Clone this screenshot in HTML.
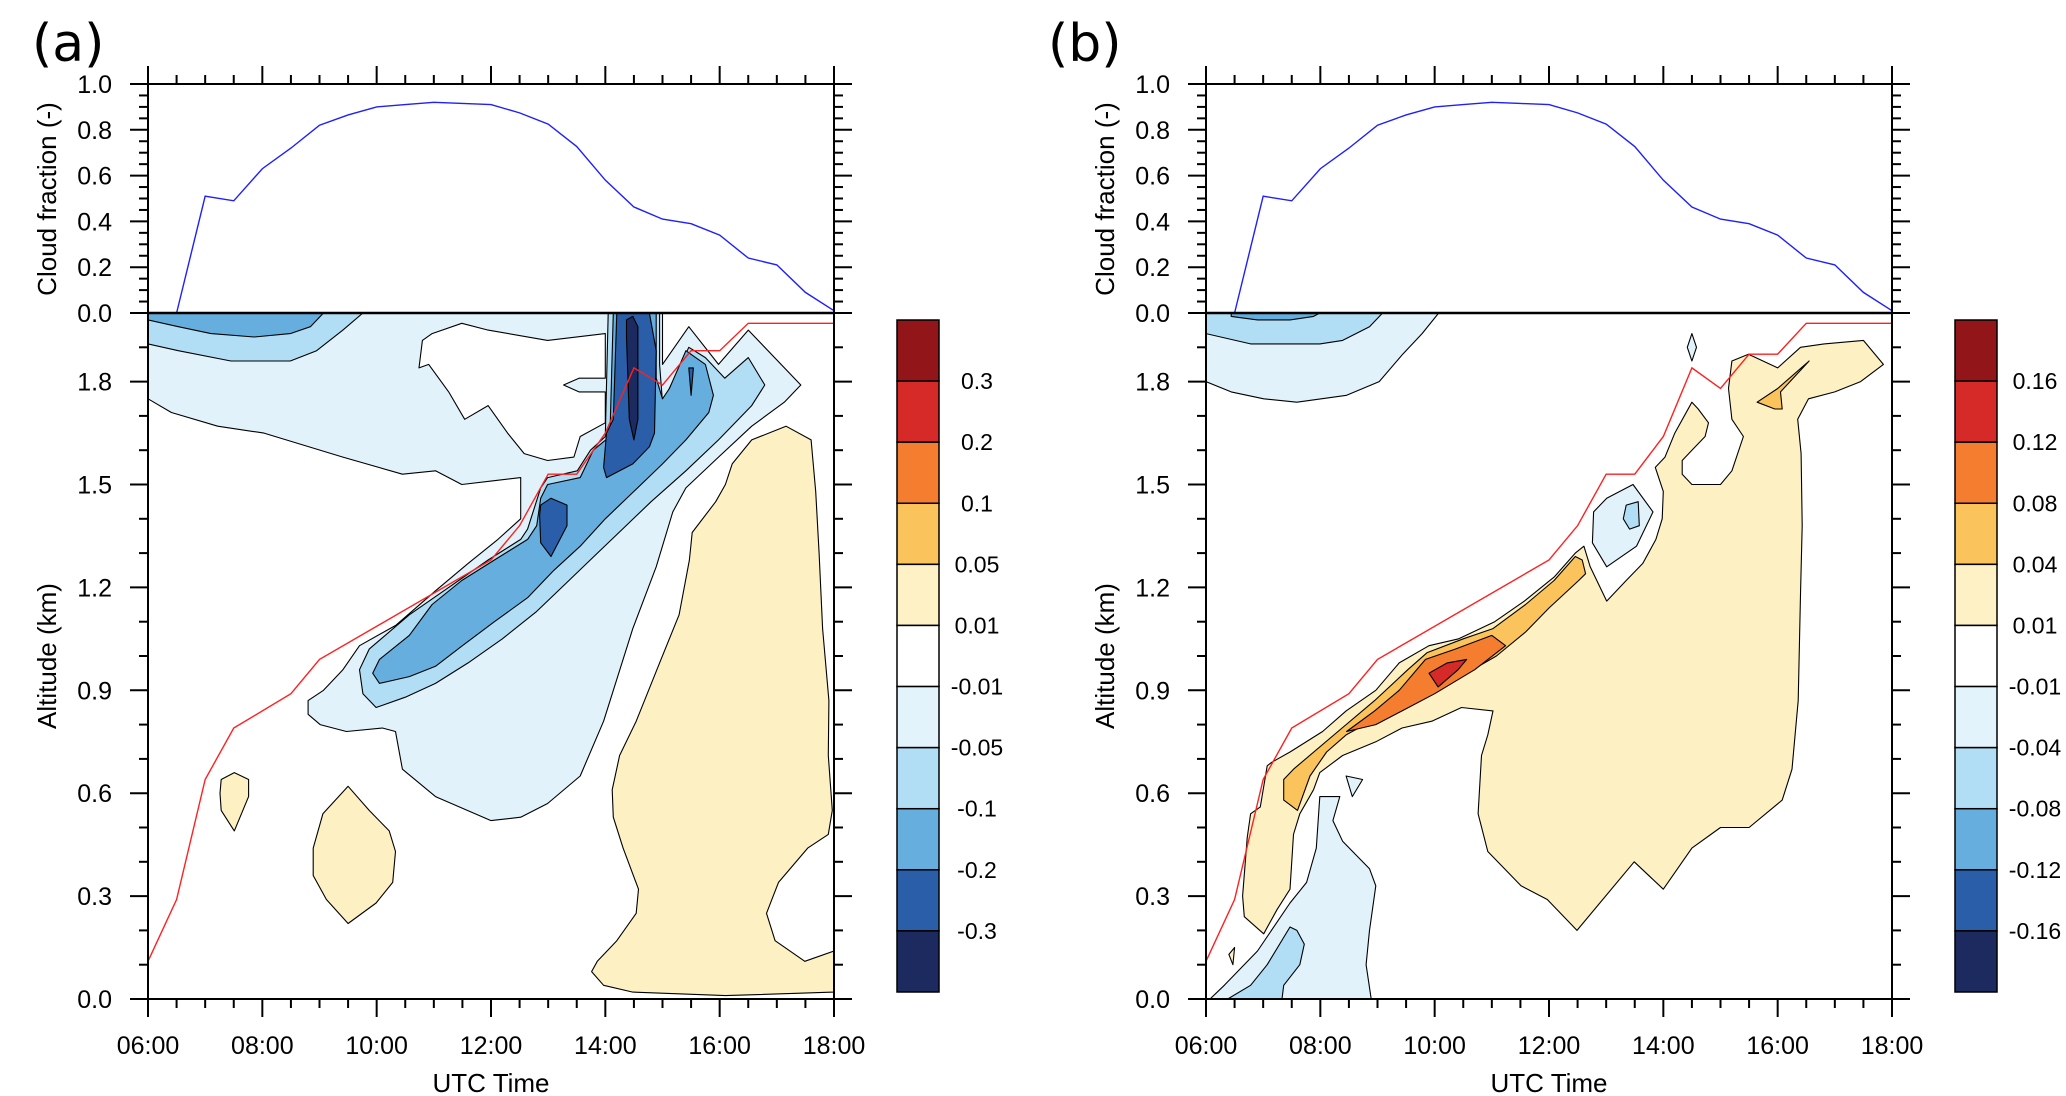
<!DOCTYPE html>
<html><head><meta charset="utf-8">
<style>
html,body{margin:0;padding:0;background:#fff;}
svg{display:block;font-family:"Liberation Sans",Arial,sans-serif;}
</style></head>
<body>
<svg id="fig" width="2066" height="1096" viewBox="0 0 2066 1096" xmlns="http://www.w3.org/2000/svg"></svg>
<script>
// ---------- data ----------
const cloudTimes = [6.5,7,7.5,8,8.5,9,9.5,10,10.5,11,11.5,12,12.5,13,13.5,14,14.5,15,15.5,16,16.5,17,17.5,18];
const cloudFraction = [0,0.51,0.49,0.63,0.72,0.82,0.865,0.90,0.91,0.92,0.915,0.91,0.874,0.825,0.727,0.58,0.463,0.41,0.39,0.34,0.24,0.21,0.09,0.01];
const topTimes = [6,6.5,7,7.5,8.5,9,12,12.5,13,13.5,14,14.5,15,15.5,16,16.5,18];
const topAltA = [0.11,0.29,0.64,0.79,0.89,0.99,1.28,1.38,1.53,1.53,1.65,1.84,1.79,1.89,1.89,1.97,1.97];
const topAltB = [0.11,0.29,0.64,0.79,0.89,0.99,1.28,1.38,1.53,1.53,1.64,1.84,1.78,1.88,1.88,1.97,1.97];
const xTickLabels = ["06:00","08:00","10:00","12:00","14:00","16:00","18:00"];
const cloudTickLabels = ["0.0","0.2","0.4","0.6","0.8","1.0"];
const altTickLabels = ["0.0","0.3","0.6","0.9","1.2","1.5","1.8"];
const levelsA = ["0.3","0.2","0.1","0.05","0.01","-0.01","-0.05","-0.1","-0.2","-0.3"];
const levelsB = ["0.16","0.12","0.08","0.04","0.01","-0.01","-0.04","-0.08","-0.12","-0.16"];
const cbColors = ["#921519","#d62a28","#f47d2f","#fbc35b","#fdf1c5","#ffffff","#e2f3fb","#b1def4","#66aede","#2a5ea9","#1c2a5f"];

// contour regions [hour, km]
const aLight = [[6,2.0],[15,2.0],[15,1.85],[15.46,1.96],[15.98,1.85],[16.5,1.95],[17.42,1.79],[17.13,1.74],[16.56,1.67],[15.98,1.58],[15.41,1.49],[15.18,1.42],[14.89,1.26],[14.48,1.08],[13.97,0.81],[13.56,0.65],[12.99,0.57],[12.52,0.53],[12.0,0.52],[11.03,0.59],[10.45,0.67],[10.33,0.78],[10.1,0.79],[9.47,0.78],[9.01,0.80],[8.8,0.83],[8.8,0.87],[9.07,0.90],[9.41,0.96],[9.7,1.03],[10.34,1.09],[11.03,1.19],[11.6,1.27],[12.12,1.34],[12.52,1.40],[12.52,1.52],[12.0,1.51],[11.49,1.50],[11.03,1.54],[10.45,1.53],[9.41,1.58],[8.03,1.65],[7.22,1.67],[6.41,1.71],[6,1.75]];
const aHole = [[10.8,1.92],[10.97,1.94],[11.49,1.97],[11.95,1.95],[12.99,1.92],[14.0,1.94],[14.0,1.81],[13.54,1.81],[13.27,1.79],[13.54,1.77],[14.0,1.77],[14.0,1.68],[13.56,1.64],[13.45,1.58],[12.99,1.57],[12.58,1.59],[12.29,1.65],[11.95,1.73],[11.54,1.69],[11.26,1.77],[10.91,1.85],[10.74,1.84]];
const aTopMidLight = [[6,2.0],[9.76,2.0],[9.41,1.95],[8.95,1.89],[8.49,1.86],[7.45,1.86],[6.53,1.89],[6,1.91]];
const aTopMid = [[6,2.0],[9.07,2.0],[8.84,1.96],[8.49,1.94],[7.86,1.93],[7.1,1.94],[6.53,1.96],[6,1.98]];
const aDiagMidLight = [[14.05,2.0],[14.95,2.0],[14.95,1.85],[15.0,1.74],[15.18,1.80],[15.46,1.90],[15.75,1.87],[16.09,1.81],[16.5,1.87],[16.79,1.79],[16.56,1.73],[15.98,1.63],[15.41,1.54],[14.8,1.45],[14.3,1.37],[13.8,1.29],[13.3,1.21],[12.8,1.13],[12.2,1.05],[11.6,0.98],[11.03,0.92],[10.5,0.88],[9.99,0.85],[9.76,0.89],[9.7,0.96],[9.87,1.02],[10.57,1.12],[11.26,1.20],[11.95,1.28],[12.52,1.34],[12.64,1.37],[12.87,1.49],[12.99,1.52],[13.51,1.54],[13.74,1.60],[14.0,1.64]];
const aDiagMid = [[14.14,2.0],[14.89,2.0],[14.89,1.81],[15.0,1.75],[15.12,1.78],[15.41,1.89],[15.75,1.85],[15.89,1.76],[15.81,1.71],[15.41,1.63],[15.0,1.56],[14.5,1.48],[14.0,1.40],[13.56,1.32],[13.1,1.25],[12.64,1.17],[12.06,1.10],[11.5,1.03],[11.03,0.97],[10.57,0.94],[10.05,0.92],[9.93,0.95],[10.05,0.99],[10.57,1.06],[10.97,1.15],[11.49,1.22],[12.06,1.28],[12.64,1.34],[12.8,1.38],[12.87,1.46],[12.99,1.5],[13.56,1.52],[13.79,1.60],[14.08,1.64]];
const aDarkColumn = [[14.2,2.0],[14.77,2.0],[14.89,1.89],[14.86,1.65],[14.77,1.61],[14.48,1.56],[14.02,1.52],[13.97,1.55],[14.02,1.65],[14.14,1.69]];
const aDarkBlob = [[12.87,1.44],[13.05,1.46],[13.33,1.44],[13.33,1.38],[13.05,1.29],[12.87,1.33],[12.85,1.41]];
const aDarkLobe = [[15.46,1.84],[15.54,1.84],[15.5,1.76]];
const aNavy = [[14.37,1.98],[14.48,1.99],[14.57,1.96],[14.57,1.69],[14.5,1.63],[14.42,1.69],[14.37,1.93]];
const aTanSmall = [[7.28,0.64],[7.51,0.66],[7.76,0.64],[7.76,0.59],[7.51,0.49],[7.28,0.55],[7.26,0.60]];
const aTanMid = [[9.5,0.62],[9.87,0.55],[10.22,0.49],[10.33,0.43],[10.28,0.34],[9.99,0.28],[9.5,0.22],[9.12,0.29],[8.89,0.36],[8.89,0.44],[9.06,0.54]];
const aTanBig = [[17.16,1.67],[17.6,1.63],[17.68,1.48],[17.74,1.30],[17.8,1.08],[17.91,0.87],[17.9,0.71],[17.97,0.55],[17.9,0.48],[17.54,0.44],[17.03,0.34],[16.82,0.25],[16.97,0.17],[17.49,0.11],[18,0.14],[18,0.02],[16.1,0.01],[14.48,0.02],[13.97,0.04],[13.76,0.08],[13.86,0.11],[14.2,0.17],[14.54,0.25],[14.58,0.32],[14.31,0.44],[14.14,0.53],[14.12,0.61],[14.25,0.71],[14.54,0.81],[14.95,0.98],[15.29,1.12],[15.47,1.28],[15.52,1.36],[15.93,1.45],[16.1,1.5],[16.22,1.56],[16.56,1.63]];

const bTopLight = [[6,2.0],[10.07,2.0],[9.78,1.94],[9.44,1.88],[9.03,1.80],[8.46,1.76],[7.59,1.74],[7.01,1.75],[6.44,1.77],[6,1.80]];
const bTopMidLight = [[6,2.0],[9.09,2.0],[8.86,1.96],[8.39,1.92],[7.99,1.91],[7.47,1.91],[6.78,1.91],[6,1.94]];
const bTopMid = [[6.44,2.0],[7.99,2.0],[7.88,1.99],[7.47,1.98],[6.9,1.98],[6.44,1.99]];
const bTanBig = [[6.67,0.24],[6.64,0.30],[6.72,0.47],[6.78,0.54],[6.95,0.56],[7.07,0.68],[7.15,0.69],[7.47,0.72],[8.04,0.78],[8.45,0.84],[8.97,0.90],[9.38,0.98],[9.9,1.03],[10.42,1.05],[11.05,1.10],[11.57,1.16],[12.09,1.23],[12.46,1.30],[12.61,1.32],[12.72,1.26],[13.01,1.16],[13.35,1.22],[13.64,1.27],[13.87,1.34],[13.98,1.40],[14.0,1.48],[13.86,1.55],[14.03,1.58],[14.2,1.65],[14.5,1.74],[14.61,1.72],[14.79,1.68],[14.73,1.64],[14.5,1.60],[14.33,1.57],[14.33,1.53],[14.5,1.50],[15.0,1.50],[15.2,1.54],[15.4,1.64],[15.2,1.69],[15.14,1.78],[15.2,1.86],[15.49,1.88],[16.0,1.84],[16.4,1.90],[16.81,1.91],[17.5,1.92],[17.85,1.85],[17.45,1.80],[17.0,1.77],[16.54,1.75],[16.35,1.69],[16.41,1.59],[16.43,1.38],[16.4,1.18],[16.36,0.87],[16.25,0.67],[16.08,0.58],[15.5,0.50],[15.0,0.50],[14.5,0.44],[14.0,0.32],[13.49,0.40],[12.49,0.20],[11.97,0.29],[11.51,0.33],[10.93,0.43],[10.76,0.54],[10.82,0.71],[10.93,0.77],[11.02,0.84],[10.47,0.85],[9.95,0.81],[9.43,0.79],[8.97,0.75],[8.39,0.71],[7.99,0.66],[7.88,0.61],[7.64,0.54],[7.53,0.48],[7.47,0.32],[7.24,0.26],[7.01,0.19]];
const bTanTiny = [[6.40,0.13],[6.50,0.15],[6.47,0.10]];
const bBlobLight = [[12.78,1.42],[13.01,1.46],[13.47,1.50],[13.82,1.42],[13.53,1.32],[13.01,1.26],[12.76,1.33]];
const bBlobMid = [[13.35,1.44],[13.56,1.45],[13.58,1.38],[13.41,1.37],[13.3,1.40]];
const bDiamond = [[14.5,1.94],[14.58,1.90],[14.5,1.86],[14.42,1.90]];
const bPatch = [[8.45,0.65],[8.74,0.64],[8.56,0.59]];
const bLowLight = [[6.07,0],[6.32,0.04],[6.9,0.14],[7.47,0.28],[7.76,0.34],[7.93,0.44],[7.99,0.59],[8.34,0.59],[8.22,0.52],[8.39,0.46],[8.86,0.38],[8.97,0.33],[8.86,0.20],[8.8,0.10],[8.89,0]];
const bLowMidLight = [[6.38,0],[6.78,0.04],[7.07,0.10],[7.47,0.21],[7.59,0.20],[7.72,0.16],[7.64,0.10],[7.36,0.04],[7.33,0]];
const bLightOrange = [[7.36,0.64],[7.53,0.67],[8.38,0.79],[8.95,0.87],[9.53,0.96],[9.87,1.01],[10.5,1.05],[11.02,1.08],[11.59,1.15],[12.09,1.22],[12.46,1.29],[12.58,1.28],[12.64,1.24],[12.52,1.22],[12.0,1.14],[11.59,1.07],[11.08,1.0],[10.56,0.95],[9.93,0.90],[9.41,0.85],[9.0,0.82],[8.45,0.77],[8.11,0.72],[7.82,0.65],[7.6,0.55],[7.36,0.58]];
const bOrange = [[8.46,0.78],[8.95,0.84],[9.38,0.90],[9.84,0.99],[10.36,1.02],[11.0,1.06],[11.24,1.03],[10.7,0.96],[10.0,0.89],[9.43,0.84],[8.97,0.80]];
const bRed = [[9.9,0.95],[10.22,0.98],[10.56,0.99],[10.41,0.96],[10.06,0.91]];
const bSmallOrange = [[15.64,1.74],[16.0,1.78],[16.55,1.86],[16.05,1.77],[16.08,1.72],[15.95,1.72]];

// ---------- drawing ----------
const NS = "http://www.w3.org/2000/svg";
const svg = document.getElementById("fig");
function mk(tag, attrs, parent) {
  const e = document.createElementNS(NS, tag);
  for (const k in attrs) e.setAttribute(k, attrs[k]);
  (parent || svg).appendChild(e);
  return e;
}
const W = 686;
function panel(x0) {
  return {
    x: t => x0 + (t - 6) / 12 * W,
    yc: v => 313 - v * 229,
    yz: z => 999 - z * 343,
    x0: x0, x1: x0 + W
  };
}
const PA = panel(148), PB = panel(1206);

function drawPanel(P, id, letterX, letter, regions, topAlt, levels, cbX) {
  const g = mk("g", {});
  
  
  const clip = mk("clipPath", {id: "clip" + id}, g);
  mk("rect", {x: P.x0, y: 313, width: W, height: 686}, clip);
  const cg = mk("g", {"clip-path": "url(#clip" + id + ")"}, g);
  
  
  regions.forEach(r => {
    const pts = r.pts.map(p => P.x(p[0]).toFixed(1) + "," + P.yz(p[1]).toFixed(1)).join(" ");
    const pg = mk("polygon", {points: pts, fill: r.c, stroke: "#000", "stroke-width": 1.1, "stroke-linejoin": "round"}, cg);
    
    
  });
  const rl = mk("polyline", {points: topTimes.map((t, i) => P.x(t) + "," + P.yz(topAlt[i])).join(" "), fill: "none", stroke: "#ff2020", "stroke-width": 1.4}, cg);
  
  
  const cl = mk("polyline", {points: cloudTimes.map((t, i) => P.x(t) + "," + P.yc(cloudFraction[i])).join(" "), fill: "none", stroke: "#1f1fff", "stroke-width": 1.4}, g);
  
  
  const f1 = mk("rect", {x: P.x0, y: 84, width: W, height: 229, fill: "none", stroke: "#000", "stroke-width": 2}, g);
  
  
  const f2 = mk("rect", {x: P.x0, y: 313, width: W, height: 686, fill: "none", stroke: "#000", "stroke-width": 2}, g);
  
  
  mk("line", {x1: P.x0, x2: P.x1, y1: 313, y2: 313, stroke: "#000", "stroke-width": 2.5}, g);
  const tk = (x1, y1, x2, y2) => mk("line", {x1, y1, x2, y2, stroke: "#000", "stroke-width": 2}, g);
  for (let i = 0; i <= 24; i++) {
    const t = 6 + i * 0.5, x = P.x(t), maj = (i % 4 === 0);
    const L = maj ? 18 : 9;
    tk(x, 84, x, 84 - L);
    tk(x, 999, x, 999 + L);
  }
  for (let i = 0; i <= 20; i++) {
    const y = P.yc(i * 0.05), maj = (i % 4 === 0), L = maj ? 18 : 9;
    tk(P.x0, y, P.x0 - L, y); tk(P.x1, y, P.x1 + L, y);
  }
  for (let i = 0; i <= 19; i++) {
    const y = P.yz(i * 0.1), maj = (i % 3 === 0), L = maj ? 18 : 9;
    tk(P.x0, y, P.x0 - L, y); tk(P.x1, y, P.x1 + L, y);
  }
  xTickLabels.forEach((s, i) => {
    const t = mk("text", {x: P.x(6 + i * 2), y: 1054, "text-anchor": "middle", "font-size": 25}, g);
    t.textContent = s;
    
    
  });
  cloudTickLabels.forEach((s, i) => {
    const t = mk("text", {x: P.x0 - 36, y: P.yc(i * 0.2) + 9, "text-anchor": "end", "font-size": 25}, g);
    t.textContent = s;
    
    
  });
  altTickLabels.forEach((s, i) => {
    const t = mk("text", {x: P.x0 - 36, y: P.yz(i * 0.3) + 9, "text-anchor": "end", "font-size": 25}, g);
    t.textContent = s;
    
    
  });
  const ct = mk("text", {x: 0, y: 0, "text-anchor": "middle", "font-size": 26, transform: "translate(" + (P.x0 - 92) + ",199) rotate(-90)"}, g);
  ct.textContent = "Cloud fraction (-)";
  
  
  const at = mk("text", {x: 0, y: 0, "text-anchor": "middle", "font-size": 26, transform: "translate(" + (P.x0 - 92) + ",656) rotate(-90)"}, g);
  at.textContent = "Altitude (km)";
  
  
  const xt = mk("text", {x: P.x0 + W / 2, y: 1092, "text-anchor": "middle", "font-size": 26}, g);
  xt.textContent = "UTC Time";
  
  
  const pl = mk("text", {x: letterX, y: 61, "font-size": 52, "font-family": "DejaVu Sans, sans-serif"}, g);
  pl.textContent = letter;
  
  
  const cb = mk("g", {}, g);
  
  
  const bh = (992 - 320) / cbColors.length;
  cbColors.forEach((c, i) => {
    const r = mk("rect", {x: cbX, y: 320 + i * bh, width: 42, height: bh, fill: c, stroke: "#000", "stroke-width": 1.5}, cb);
    
    
  });
  levels.forEach((s, i) => {
    const t = mk("text", {x: cbX + 80, y: 320 + (i + 1) * bh + 8, "text-anchor": "middle", "font-size": 23}, cb);
    t.textContent = s;
    
    
  });
}

const L1 = "#e2f2fa", L2 = "#b1def4", L3 = "#66aede", L4 = "#2a5ea9", L5 = "#1c2a5f", TAN = "#fdf1c4", LO = "#fbc35b", OR = "#f47d2f", RD = "#d62a28";

drawPanel(PA, "a", 32, "(a)", [
  {n: "region-weak-negative", c: L1, pts: aLight},
  {n: "region-neutral-hole", c: "#ffffff", pts: aHole},
  {n: "region-neg-0.05", c: L2, pts: aTopMidLight},
  {n: "region-neg-0.1", c: L3, pts: aTopMid},
  {n: "region-neg-0.05-diag", c: L2, pts: aDiagMidLight},
  {n: "region-neg-0.1-diag", c: L3, pts: aDiagMid},
  {n: "region-neg-0.2-column", c: L4, pts: aDarkColumn},
  {n: "region-neg-0.2-blob", c: L4, pts: aDarkBlob},
  {n: "region-neg-0.2-lobe", c: L4, pts: aDarkLobe},
  {n: "region-neg-0.3", c: L5, pts: aNavy},
  {n: "region-pos-small", c: TAN, pts: aTanSmall},
  {n: "region-pos-mid", c: TAN, pts: aTanMid},
  {n: "region-pos-big", c: TAN, pts: aTanBig}
], topAltA, levelsA, 897);

drawPanel(PB, "b", 1048, "(b)", [
  {n: "region-weak-negative", c: L1, pts: bTopLight},
  {n: "region-neg-0.04", c: L2, pts: bTopMidLight},
  {n: "region-neg-0.08", c: L3, pts: bTopMid},
  {n: "region-pos-big", c: TAN, pts: bTanBig},
  {n: "region-pos-tiny", c: TAN, pts: bTanTiny},
  {n: "region-neg-blob", c: L1, pts: bBlobLight},
  {n: "region-neg-blob-core", c: L2, pts: bBlobMid},
  {n: "region-neg-diamond", c: L1, pts: bDiamond},
  {n: "region-neg-patch", c: L1, pts: bPatch},
  {n: "region-neg-low", c: L1, pts: bLowLight},
  {n: "region-neg-low-core", c: L2, pts: bLowMidLight},
  {n: "region-pos-0.04", c: LO, pts: bLightOrange},
  {n: "region-pos-0.08", c: OR, pts: bOrange},
  {n: "region-pos-0.12", c: RD, pts: bRed},
  {n: "region-pos-small-orange", c: LO, pts: bSmallOrange}
], topAltB, levelsB, 1955);
</script>
</body></html>
